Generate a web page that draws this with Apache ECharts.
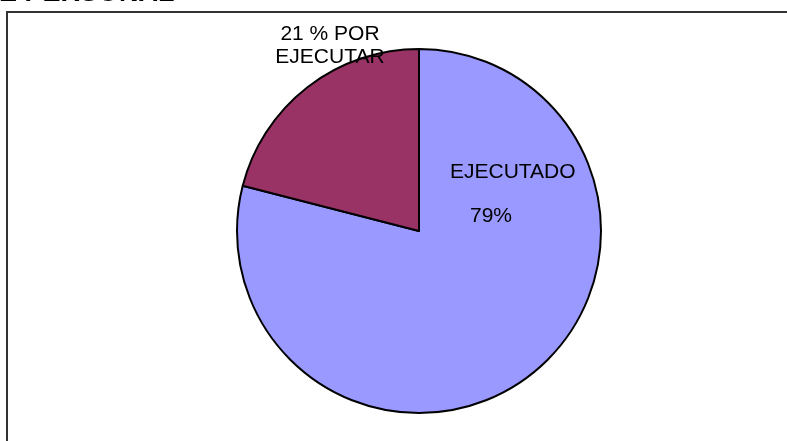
<!DOCTYPE html>
<html><head><meta charset="utf-8">
<script src="https://cdn.jsdelivr.net/npm/echarts@6/dist/echarts.min.js"></script>
<style>html,body{margin:0;padding:0;background:#fff}#c{width:787px;height:441px}</style>
</head><body><div id="c"></div>
<script>
const titleText = 'E PERSONAL';
const categories = ['EJECUTADO', 'POR EJECUTAR'];
const values = [79, 21];
const labelTexts = ['{a|EJECUTADO}\n{b|79%}', '{c|21 % POR}\n{c|EJECUTAR}'];
const colors = ['#9999FF', '#993366'];

const FONT = '"Liberation Sans", Arial, sans-serif';
const chart = echarts.init(document.getElementById('c'), null, {renderer: 'canvas'});
chart.setOption({
  animation: false,
  backgroundColor: '#fff',
  graphic: [
    {type: 'rect', shape: {x: 7, y: 12, width: 800, height: 460}, style: {fill: 'none', stroke: '#333', lineWidth: 2}, z: -1},
    {type: 'text', left: -1, top: -20, style: {text: titleText, font: 'bold 27px ' + FONT, fill: '#000'}}
  ],
  series: [{
    type: 'pie',
    center: [419, 231],
    radius: [0, 182],
    startAngle: 90,
    clockwise: true,
    data: categories.map((c, i) => ({
      name: c, value: values[i],
      itemStyle: {color: colors[i]},
      label: {formatter: labelTexts[i]}
    })),
    itemStyle: {borderColor: '#000', borderWidth: 2},
    label: {
      show: true,
      position: 'inside',
      color: '#000',
      fontSize: 21,
      fontFamily: FONT,
      rich: {
        a: {fontSize: 21, fontFamily: FONT, color: '#000', lineHeight: 44, align: 'left'},
        b: {fontSize: 21, fontFamily: FONT, color: '#000', lineHeight: 44, align: 'left', padding: [0, 0, 0, 20]},
        c: {fontSize: 21, fontFamily: FONT, color: '#000', lineHeight: 23, align: 'center'}
      }
    },
    labelLine: {show: false},
    labelLayout: function (p) {
      if (p.dataIndex === 0) return {x: 450, y: 194, align: 'left', verticalAlign: 'middle'};
      return {x: 330, y: 46, align: 'center', verticalAlign: 'middle'};
    },
    emphasis: {disabled: true}
  }]
});
</script></body></html>
